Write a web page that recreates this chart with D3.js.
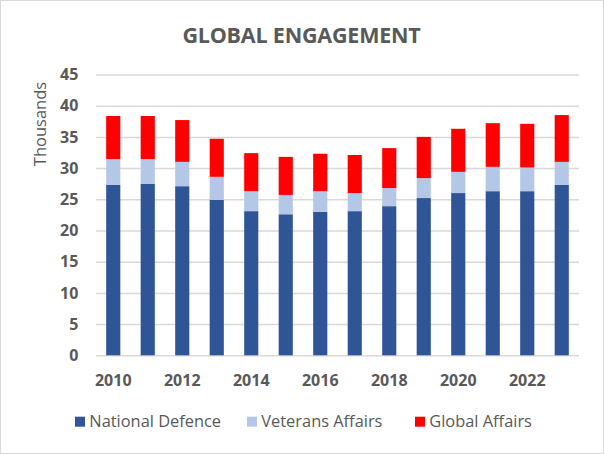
<!DOCTYPE html>
<html><head><meta charset="utf-8">
<script src="https://cdn.jsdelivr.net/npm/d3@7"></script>
<style>
html,body{margin:0;padding:0;background:#fff;}
svg{display:block;font-family:"Open Sans","Liberation Sans",sans-serif;}
</style></head>
<body>
<svg id="chart" width="604" height="454"></svg>
<script>
const years = [2010,2011,2012,2013,2014,2015,2016,2017,2018,2019,2020,2021,2022,2023];
const seriesNames = ["National Defence","Veterans Affairs","Global Affairs"];
const nationalDefence = [27300,27450,27100,24900,23100,22600,23000,23100,23900,25200,26000,26300,26300,27300];
const veteransAffairs = [4150,4000,3900,3700,3200,3100,3300,2900,2900,3200,3400,3900,3800,3700];
const globalAffairs   = [6900,6900,6700,6100,6100,6100,6000,6100,6400,6600,6900,7000,7000,7500];
const yTicks = [0,5000,10000,15000,20000,25000,30000,35000,40000,45000];
const xTickLabels = [2010,2012,2014,2016,2018,2020,2022];
const colors = ["#2F5597","#B4C7E7","#FF0000"];

const svg = d3.select("#chart");
const W = 604, H = 454;
const m = {left:96, right:25, top:74.5, bottom:98.7};

svg.append("rect").attr("x",0.5).attr("y",0.5).attr("width",W-1).attr("height",H-1)
  .attr("fill","#fff").attr("stroke","#d9d9d9").attr("stroke-width",1);

const table = years.map((y,i)=>({year:y, "National Defence":nationalDefence[i], "Veterans Affairs":veteransAffairs[i], "Global Affairs":globalAffairs[i]}));
const stacked = d3.stack().keys(seriesNames)(table);

const x = d3.scaleBand().domain(years).range([m.left, W-m.right]).paddingInner(0.59).paddingOuter(0.295);
const y = d3.scaleLinear().domain([0,45000]).range([H-m.bottom, m.top]);

// gridlines
const grid = d3.axisLeft(y).tickValues(yTicks).tickSize(-(W-m.right-m.left)).tickFormat("");
const gg = svg.append("g").attr("transform",`translate(${m.left},0)`).call(grid);
gg.select(".domain").remove();
gg.selectAll("line").attr("stroke","#d9d9d9").attr("stroke-width",1.5);

// y axis labels
const ya = svg.append("g").attr("transform",`translate(${m.left},0)`)
  .call(d3.axisLeft(y).tickValues(yTicks).tickSize(0).tickPadding(17.7).tickFormat(d=>d/1000));
ya.select(".domain").remove();
ya.selectAll("text").attr("fill","#595959").style("font-size","16px").style("font-weight","bold")
  .style("font-family","'Open Sans','Liberation Sans',sans-serif");

// bars
svg.append("g").selectAll("g").data(stacked).join("g")
  .attr("fill",(d,i)=>colors[i])
  .selectAll("rect").data(d=>d).join("rect")
  .attr("x",d=>x(d.data.year)).attr("width",x.bandwidth())
  .attr("y",d=>y(d[1])).attr("height",d=>y(d[0])-y(d[1]));

// x axis
const xa = svg.append("g").attr("transform",`translate(0,${H-m.bottom})`)
  .call(d3.axisBottom(x).tickSize(0).tickPadding(19).tickFormat(d=>xTickLabels.includes(d)?d:""));
xa.select(".domain").remove();
xa.selectAll("text").attr("fill","#595959").style("font-size","16px").style("font-weight","bold")
  .style("font-family","'Open Sans','Liberation Sans',sans-serif");

// y title
svg.append("text").attr("transform","translate(46,124) rotate(-90)")
  .attr("text-anchor","middle").attr("fill","#595959").style("font-size","16.5px").text("Thousands");

// title
svg.append("text").attr("x",301.5).attr("y",43).attr("text-anchor","middle")
  .attr("fill","#595959").style("font-size","21.5px").style("font-weight","bold")
  .style("letter-spacing","-0.2px")
  .text("GLOBAL ENGAGEMENT");

// legend
const legX = [75,247,415];
const lg = svg.append("g").selectAll("g").data(seriesNames).join("g")
  .attr("transform",(d,i)=>`translate(${legX[i]},416.7)`);
lg.append("rect").attr("width",10).attr("height",10).attr("fill",(d,i)=>colors[i]);
lg.append("text").attr("x",14.3).attr("y",10).attr("fill","#595959").style("font-size","16.4px").text(d=>d);
</script>
</body></html>
